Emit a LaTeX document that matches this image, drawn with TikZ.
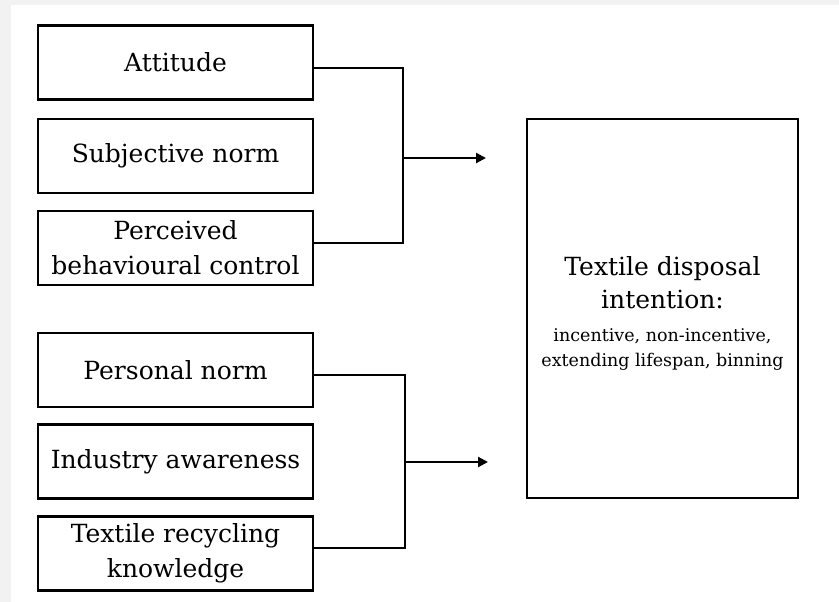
\documentclass[tikz,border=0pt]{standalone}
\usepackage{fontspec}
\setmainfont{DejaVu Serif}
\usetikzlibrary{arrows.meta}
\begin{document}
\begin{tikzpicture}[x=1pt, y=-1pt,
	factor/.style={draw=black, line width=2.2pt, fill=white, minimum width=275pt, minimum height=74pt, align=center, inner sep=0pt, font=\fontsize{25}{35}\selectfont},
	outcome/.style={draw=black, line width=2.2pt, fill=white, minimum width=271pt, minimum height=379pt, align=center, inner sep=0pt, font=\fontsize{25}{33}\selectfont},
	link/.style={line width=2.2pt},
	push/.style={line width=2.2pt, -{Triangle[length=10pt, width=10pt]}}]
	% Frame
	\fill [black!5] (0,0) rectangle (839,602);
	\fill [white] (11,5) rectangle (839,602);
	\useasboundingbox (0,0) rectangle (839,602);
	% TPB factors
	\node [factor] (att) at (175.5,62.5) {Attitude};
	\node [factor] (sn) at (175.5,156) {Subjective norm};
	\node [factor] (pbc) at (175.5,248) {Perceived\\behavioural control};
	% Extended factors
	\node [factor] (pn) at (175.5,370) {Personal norm};
	\node [factor] (ia) at (175.5,461.5) {Industry awareness};
	\node [factor] (trk) at (175.5,553.5) {Textile recycling\\knowledge};
	% Intention
	\node [outcome] (tdi) at (662.5,308.5) {\rule{0pt}{29pt}Textile disposal\\intention:\\[0pt]
		\fontsize{17.5}{25}\selectfont incentive, non-incentive,\\[-8pt]\fontsize{17.5}{25}\selectfont extending lifespan, binning};
	% Connectors
	\coordinate (j1) at (403,158);
	\coordinate (t1) at (486,158);
	\coordinate (j2) at (405,462);
	\coordinate (t2) at (488,462);
	\draw [link] ([yshift=-5.5pt]att.east) -| (j1) |- ([yshift=5pt]pbc.east);
	\draw [push] (j1) -- (t1);
	\draw [link] ([yshift=-5pt]pn.east) -| (j2) |- ([yshift=5.5pt]trk.east);
	\draw [push] (j2) -- (t2);
\end{tikzpicture}
\end{document}
